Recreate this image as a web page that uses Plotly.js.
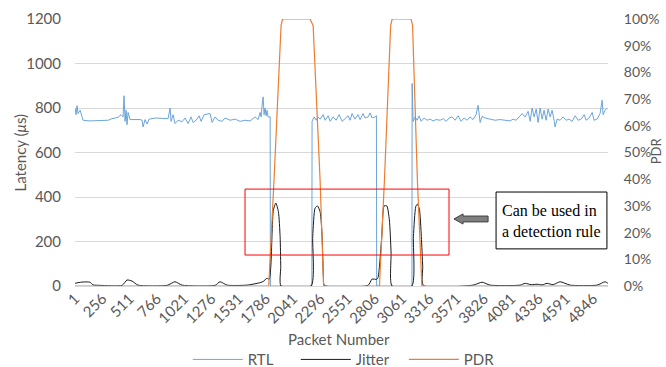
<!DOCTYPE html>
<html>
<head>
<meta charset="utf-8">
<script src="https://cdn.plot.ly/plotly-3.0.1.min.js"></script>
<style>html,body{margin:0;padding:0;background:#fff;}#chart{width:666px;height:367px;}</style>
</head>
<body>
<div id="chart"></div>
<script>
// Tick labels on the packet axis
const xTicks = [1,256,511,766,1021,1276,1531,1786,2041,2296,2551,2806,3061,3316,3571,3826,4081,4336,4591,4846];

// RTL (latency, µs)
const rtlPacket = [1,10,20,29,48,66,76,141,235,310,347,403,431,450,459,469,478,487,497,515,609,628,637,656,675,693,721,749,871,890,899,918,936,965,1002,1030,1058,1086,1105,1133,1161,1180,1208,1264,1283,1311,1339,1376,1404,1451,1498,1545,1591,1638,1685,1713,1732,1741,1750,1760,1769,1778,1788,1797,1806,1826,1828,2216,2218,2237,2256,2274,2293,2321,2340,2368,2387,2415,2443,2471,2499,2527,2555,2574,2592,2620,2648,2667,2695,2714,2742,2761,2779,2808,2820,2822,3152,3154,3163,3182,3201,3219,3238,3266,3294,3322,3350,3378,3416,3444,3472,3500,3528,3556,3584,3612,3640,3668,3696,3724,3752,3771,3780,3790,3808,3837,3883,3930,3977,4024,4070,4098,4127,4155,4183,4211,4239,4258,4276,4295,4314,4332,4351,4370,4388,4407,4426,4445,4463,4482,4491,4510,4538,4566,4594,4622,4650,4679,4707,4735,4763,4781,4809,4838,4856,4884,4912,4931,4940,4959,4978];
const rtlValue = [800,770,810,775,790,760,745,742,745,745,752,758,770,760,855,740,790,725,780,748,748,745,715,748,728,750,752,755,752,800,740,770,730,745,738,755,730,760,735,745,765,740,770,775,735,760,745,740,755,745,750,740,745,742,760,748,780,760,810,850,770,800,765,790,760,760,0,0,740,760,745,760,750,770,745,765,740,760,745,770,740,755,765,745,775,750,770,748,775,755,760,778,755,760,765,0,0,910,740,760,745,765,740,755,745,750,742,748,745,752,740,755,760,745,765,740,755,745,760,748,770,812,755,735,762,755,750,745,748,745,742,750,745,760,775,760,785,740,800,760,795,735,800,750,790,745,795,760,790,745,715,750,745,760,745,750,740,765,745,750,770,745,755,780,745,750,775,835,770,790,800];

// Jitter (µs)
const jitterPacket = [1,29,76,141,169,235,441,487,534,590,862,936,1002,1311,1357,1423,1610,1732,1760,1797,1816,1832,1856,1879,1903,1919,1925,1928,2208,2224,2246,2268,2293,2312,2324,2333,2742,2779,2823,2836,2870,2892,2917,2941,2957,2966,3151,3166,3188,3203,3222,3240,3253,3259,3724,3808,3883,4164,4211,4267,4323,4370,4416,4473,4538,4632,4884,4959,4985];
const jitterValue = [12,15,18,17,5,3,3,27,22,4,3,19,4,3,19,4,4,15,20,35,30,87,341,373,334,222,87,0,0,222,350,360,334,222,42,3,3,31,30,40,222,360,360,297,148,0,0,222,357,368,345,222,87,3,4,17,4,4,12,6,8,5,12,6,19,4,4,19,12];

// PDR (fraction of packets dropped)
const pdrPacket = [1,1813,1862,1928,1942,2199,2228,2293,2326,2848,2895,2953,2967,3144,3158,3203,3245,4985];
const pdrValue = [0,0,0.397,0.975,1,1,0.975,0.397,0,0,0.397,0.975,1,1,0.975,0.397,0,0];

const FAM = 'Lato, "Liberation Sans", sans-serif';
const axisFont = {family: FAM, size: 15, color: '#595959'};
const rightFont = {family: FAM, size: 14, color: '#595959'};
const legendFont = {family: FAM, size: 15, color: '#595959'};

const traces = [
  {x: rtlPacket, y: rtlValue, name: 'RTL', type: 'scatter', mode: 'lines',
   line: {color: '#5B9BD5', width: 0.9}, yaxis: 'y'},
  {x: jitterPacket, y: jitterValue, name: 'Jitter', type: 'scatter', mode: 'lines',
   line: {color: '#1a1a1a', width: 1, shape: 'spline', smoothing: 0.6}, yaxis: 'y'},
  {x: pdrPacket, y: pdrValue, name: 'PDR', type: 'scatter', mode: 'lines',
   line: {color: '#ED7D31', width: 1.2}, yaxis: 'y2'}
];

const layout = {
  width: 666, height: 367,
  margin: {l: 75, r: 58, t: 19, b: 81, autoexpand: false},
  paper_bgcolor: '#ffffff', plot_bgcolor: '#ffffff',
  font: axisFont,
  showlegend: true,
  legend: {orientation: 'h', x: 0.282, xref: 'container', xanchor: 'left',
           y: 0.02, yref: 'container', yanchor: 'middle',
           font: legendFont, itemwidth: 50, entrywidth: 43, entrywidthmode: 'pixels',
           traceorder: 'normal'},
  xaxis: {
    range: [0.5, 4986], tickmode: 'array', tickvals: xTicks, ticktext: xTicks.map(String),
    tickangle: -45, tickfont: axisFont, showgrid: false, zeroline: false, showline: false,
    ticks: '', automargin: false
  },
  yaxis: {
    range: [0, 1200], dtick: 200, tick0: 0, tickfont: axisFont,
    gridcolor: '#d9d9d9', gridwidth: 1, zeroline: true, zerolinecolor: '#d9d9d9', zerolinewidth: 1,
    showline: false, ticks: 'outside', ticklen: 10, tickcolor: 'rgba(0,0,0,0)', automargin: false
  },
  yaxis2: {
    range: [0, 1], dtick: 0.1, tick0: 0, tickformat: '.0%', overlaying: 'y', side: 'right',
    tickfont: rightFont, showgrid: false, zeroline: false, showline: false,
    ticks: 'outside', ticklen: 12, tickcolor: 'rgba(0,0,0,0)', automargin: false
  },
  shapes: [
    {type: 'rect', xref: 'paper', yref: 'paper', x0: 0.319, x1: 0.7017, y0: 0.116, y1: 0.363,
     line: {color: '#ff0000', width: 1}, fillcolor: 'rgba(0,0,0,0)'},
    {type: 'rect', xref: 'paper', yref: 'paper', x0: 0.790, x1: 0.998, y0: 0.139, y1: 0.352,
     line: {color: '#000000', width: 1}, fillcolor: '#ffffff'},
    {type: 'path', xref: 'paper', yref: 'paper',
     path: 'M 0.711,0.251 L 0.728,0.270 L 0.728,0.262 L 0.775,0.262 L 0.775,0.240 L 0.728,0.240 L 0.728,0.232 Z',
     fillcolor: '#7f7f7f', line: {color: '#404040', width: 1}}
  ],
  annotations: [
    {xref: 'paper', yref: 'paper', x: 0.797, y: 0.2416, xanchor: 'left', yanchor: 'middle',
     align: 'left', showarrow: false, text: 'Can be used in<br>a detection rule',
     font: {family: '"Liberation Serif", "Times New Roman", serif', size: 16, color: '#000000'}},
    {xref: 'paper', yref: 'paper', x: 0.4944, y: -0.1985, xanchor: 'center', yanchor: 'middle',
     showarrow: false, text: 'Packet Number', font: axisFont},
    {xref: 'paper', yref: 'paper', x: -0.1032, y: 0.5, xanchor: 'center', yanchor: 'middle',
     showarrow: false, textangle: -90, text: 'Latency (<i>μ</i>s)', font: axisFont},
    {xref: 'paper', yref: 'paper', x: 1.0901, y: 0.505, xanchor: 'center', yanchor: 'middle',
     showarrow: false, textangle: -90, text: 'PDR',
     font: {family: FAM, size: 13, color: '#595959'}}
  ]
};

Plotly.newPlot('chart', traces, layout, {displayModeBar: false, staticPlot: true});
</script>
</body>
</html>
